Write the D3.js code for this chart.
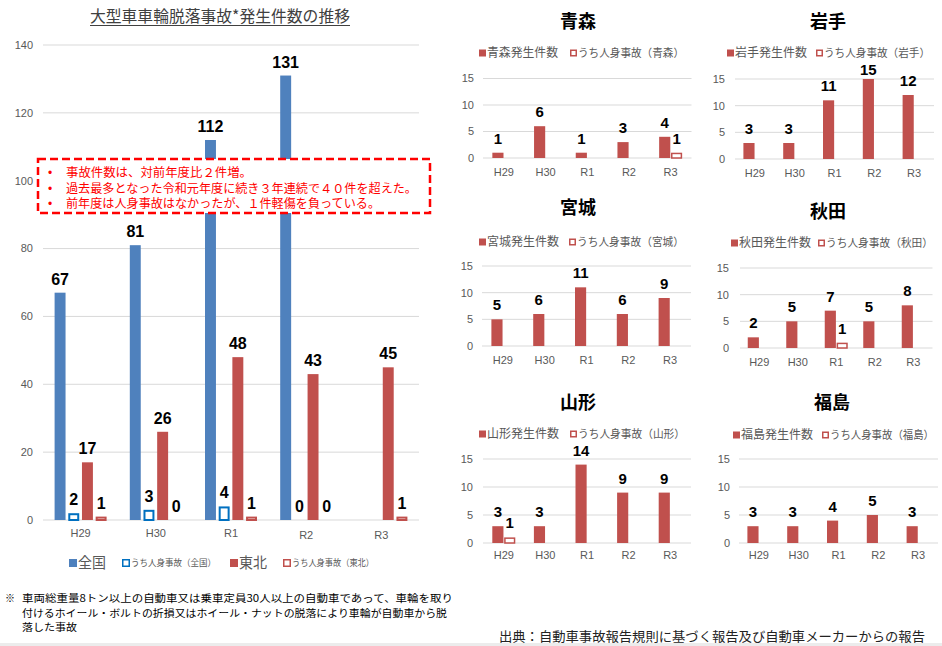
<!DOCTYPE html>
<html><head><meta charset="utf-8">
<script src="https://cdn.jsdelivr.net/npm/d3@7"></script>
<style>
body{margin:0;background:#fff}
svg{display:block}
text{font-family:"Liberation Sans","Noto Sans CJK JP",sans-serif}
.jp{font-family:"Noto Sans CJK JP",sans-serif}
</style>
</head><body>
<svg id="c" width="942" height="646"></svg>
<script>
// ---------- DATA ----------
const years = ["H29", "H30", "R1", "R2", "R3"];
const mainTicks = [0, 20, 40, 60, 80, 100, 120, 140];
const zenkoku = [67, 81, 112, 131, null];
const zenkokuInjury = [2, 3, 4, 0, null];
const tohoku = [17, 26, 48, 43, 45];
const tohokuInjury = [1, 0, 1, 0, 1];
const mainSeriesNames = ["全国", "うち人身事故（全国）", "東北", "うち人身事故（東北）"];

const smallTicks = [0, 5, 10, 15];
const prefectures = ["青森", "岩手", "宮城", "秋田", "山形", "福島"];
const aomori = [1, 6, 1, 3, 4];
const aomoriInjury = [null, null, null, null, 1];
const iwate = [3, 3, 11, 15, 12];
const iwateInjury = [null, null, null, null, null];
const miyagi = [5, 6, 11, 6, 9];
const miyagiInjury = [null, null, null, null, null];
const akita = [2, 5, 7, 5, 8];
const akitaInjury = [null, null, 1, null, null];
const yamagata = [3, 3, 14, 9, 9];
const yamagataInjury = [1, null, null, null, null];
const fukushima = [3, 3, 4, 5, 3];
const fukushimaInjury = [null, null, null, null, null];

const calloutLines = [
  "事故件数は、対前年度比２件増。",
  "過去最多となった令和元年度に続き３年連続で４０件を超えた。",
  "前年度は人身事故はなかったが、１件軽傷を負っている。"
];
const footnoteLines = [
  "車両総重量8トン以上の自動車又は乗車定員30人以上の自動車であって、車輪を取り",
  "付けるホイール・ボルトの折損又はホイール・ナットの脱落により車輪が自動車から脱",
  "落した事故"
];
const sourceText = "出典：自動車事故報告規則に基づく報告及び自動車メーカーからの報告";

// ---------- STYLE ----------
const BLUE = "#4f81bd", BLUE_OUT = "#0070c0", RED = "#c0504d", GRID = "#d9d9d9", TICK = "#595959";

const svg = d3.select("#c");

// ---------- MAIN CHART ----------
const main = svg.append("g");
const mx = d3.scaleBand().domain(years).range([43, 419]);
const my = d3.scaleLinear().domain([0, 140]).range([520, 45]);
const keys = ["z", "zi", "t", "ti"];
const sub = d3.scaleBand().domain(keys).range([0, 52]).paddingInner(0.2);
const gOff = (mx.bandwidth() - 52) / 2;

main.append("text").attr("x", 220).attr("y", 22).attr("text-anchor", "middle")
  .attr("class", "jp").attr("font-size", 16).attr("fill", "#404040")
  .attr("textLength", 260).attr("lengthAdjust", "spacingAndGlyphs")
  .text("大型車車輪脱落事故*発生件数の推移");
main.append("line").attr("x1", 90).attr("x2", 350).attr("y1", 25.5).attr("y2", 25.5)
  .attr("stroke", "#404040").attr("stroke-width", 1);

main.selectAll(".mg").data(mainTicks).join("line")
  .attr("x1", 43).attr("x2", 419).attr("y1", d => my(d)).attr("y2", d => my(d))
  .attr("stroke", GRID).attr("stroke-width", 1);
main.selectAll(".mt").data(mainTicks).join("text")
  .attr("x", 33).attr("y", d => my(d)).attr("dy", "0.35em").attr("text-anchor", "end")
  .attr("font-size", 11).attr("fill", TICK).text(d => d);
main.selectAll(".mxl").data(years).join("text")
  .attr("x", d => mx(d) + mx.bandwidth() / 2).attr("y", (d, i) => i >= 3 ? 539 : 537).attr("text-anchor", "middle")
  .attr("font-size", 11).attr("fill", TICK).text(d => d);

const mainSeries = [
  {k: "z", vals: zenkoku, fill: BLUE, hollow: false, stroke: BLUE},
  {k: "zi", vals: zenkokuInjury, fill: "#fff", hollow: true, stroke: BLUE_OUT},
  {k: "t", vals: tohoku, fill: RED, hollow: false, stroke: RED},
  {k: "ti", vals: tohokuInjury, fill: "#fff", hollow: true, stroke: RED}
];
mainSeries.forEach(s => {
  const pts = years.map((y, i) => ({y, v: s.vals[i]})).filter(d => d.v !== null);
  const bx = d => mx(d.y) + gOff + sub(s.k);
  main.selectAll(null).data(pts.filter(d => d.v > 0)).join("rect")
    .attr("x", d => bx(d) + (s.hollow ? 1 : 0))
    .attr("y", d => my(d.v) + (s.hollow ? 1 : 0))
    .attr("width", sub.bandwidth() - (s.hollow ? 2 : 0))
    .attr("height", d => my(0) - my(d.v) - (s.hollow ? 1 : 0))
    .attr("fill", s.fill).attr("stroke", s.hollow ? s.stroke : "none")
    .attr("stroke-width", s.hollow ? 2 : 0);
  main.selectAll(null).data(pts).join("text")
    .attr("x", d => bx(d) + sub.bandwidth() / 2).attr("y", d => my(d.v) - 8)
    .attr("text-anchor", "middle").attr("font-size", 16).attr("font-weight", "bold")
    .attr("fill", "#000").text(d => d.v);
});

// main legend
const legItems = [
  {x: 69, fill: BLUE, stroke: null, label: mainSeriesNames[0], fs: 15, w: 28},
  {x: 122, fill: "#fff", stroke: BLUE_OUT, label: mainSeriesNames[1], fs: 9, w: 85},
  {x: 230, fill: RED, stroke: null, label: mainSeriesNames[2], fs: 15, w: 28},
  {x: 283, fill: "#fff", stroke: RED, label: mainSeriesNames[3], fs: 9, w: 82}
];
legItems.forEach(it => {
  main.append("rect").attr("x", it.x + (it.stroke ? 0.75 : 0)).attr("y", 559 + (it.stroke ? 0.75 : 0))
    .attr("width", it.stroke ? 6.5 : 8).attr("height", it.stroke ? 6.5 : 8)
    .attr("fill", it.fill).attr("stroke", it.stroke || "none").attr("stroke-width", it.stroke ? 1.5 : 0);
  main.append("text").attr("x", it.x + 9).attr("y", 563).attr("dy", "0.36em")
    .attr("class", "jp").attr("font-size", it.fs).attr("fill", TICK)
    .attr("textLength", it.w).attr("lengthAdjust", "spacingAndGlyphs").text(it.label);
});

// callout box
const cb = svg.append("g");
cb.append("rect").attr("x", 38).attr("y", 159).attr("width", 392).attr("height", 54)
  .attr("fill", "#fff").attr("stroke", "#ff0000").attr("stroke-width", 2.5)
  .attr("stroke-dasharray", "8,4");
const calloutW = [186, 351, 314];
calloutLines.forEach((t, i) => {
  const yy = 177 + i * 15.7;
  cb.append("text").attr("x", 48).attr("y", yy).attr("font-size", 12).attr("fill", "#ff0000").text("•");
  cb.append("text").attr("x", 66).attr("y", yy).attr("class", "jp").attr("font-size", 12)
    .attr("textLength", calloutW[i]).attr("lengthAdjust", "spacingAndGlyphs")
    .attr("fill", "#ff0000").text(t);
});

// ---------- SMALL CHARTS ----------
const panels = [
  {name: prefectures[0], c: aomori, inj: aomoriInjury, x0: 483, x1: 691.5, y0: 158, y15: 78.5, ylx: 474, xly: 176, tx: 578, ty: 28, ly: 53, l1: 479, l2: 570, w1: 71, w2: 106},
  {name: prefectures[1], c: iwate, inj: iwateInjury, x0: 735, x1: 934, y0: 159, y15: 79, ylx: 725, xly: 177, tx: 828, ty: 28, ly: 53, l1: 727, l2: 816, w1: 72, w2: 106},
  {name: prefectures[2], c: miyagi, inj: miyagiInjury, x0: 482, x1: 691, y0: 346, y15: 266, ylx: 473, xly: 364, tx: 578, ty: 214, ly: 242, l1: 479, l2: 569, w1: 72, w2: 107},
  {name: prefectures[3], c: akita, inj: akitaInjury, x0: 740, x1: 932.5, y0: 348, y15: 268, ylx: 729, xly: 366, tx: 828, ty: 218, ly: 243, l1: 731, l2: 818, w1: 72, w2: 107},
  {name: prefectures[4], c: yamagata, inj: yamagataInjury, x0: 483, x1: 691, y0: 543, y15: 459, ylx: 473, xly: 559, tx: 578, ty: 409, ly: 434, l1: 479, l2: 570, w1: 72, w2: 107},
  {name: prefectures[5], c: fukushima, inj: fukushimaInjury, x0: 739, x1: 938, y0: 543, y15: 459, ylx: 730, xly: 559, tx: 832, ty: 409, ly: 435, l1: 733, l2: 822, w1: 72, w2: 104}
];

panels.forEach(p => {
  const g = svg.append("g");
  const x = d3.scaleBand().domain(years).range([p.x0, p.x1]);
  const y = d3.scaleLinear().domain([0, 15]).range([p.y0, p.y15]);
  const s = d3.scaleBand().domain(["c", "i"]).range([0, 23]).paddingInner(0.06);
  const off = x.bandwidth() / 2 - 11.5;
  const labelY = v => Math.max(y(v) - 9, p.y15 - 4);

  g.selectAll(null).data(smallTicks).join("line")
    .attr("x1", p.x0).attr("x2", p.x1).attr("y1", d => y(d)).attr("y2", d => y(d))
    .attr("stroke", GRID).attr("stroke-width", 1);
  g.selectAll(null).data(smallTicks).join("text")
    .attr("x", p.ylx).attr("y", d => y(d)).attr("dy", "0.35em").attr("text-anchor", "end")
    .attr("font-size", 11).attr("fill", TICK).text(d => d);
  g.selectAll(null).data(years).join("text")
    .attr("x", d => x(d) + x.bandwidth() / 2).attr("y", p.xly).attr("text-anchor", "middle")
    .attr("font-size", 11).attr("fill", TICK).text(d => d);

  const cPts = years.map((yr, i) => ({yr, v: p.c[i]})).filter(d => d.v !== null);
  const iPts = years.map((yr, i) => ({yr, v: p.inj[i]})).filter(d => d.v !== null);

  g.selectAll(null).data(cPts).join("rect")
    .attr("x", d => x(d.yr) + off + s("c")).attr("y", d => y(d.v))
    .attr("width", s.bandwidth()).attr("height", d => y(0) - y(d.v)).attr("fill", RED);
  g.selectAll(null).data(iPts.filter(d => d.v > 0)).join("rect")
    .attr("x", d => x(d.yr) + off + s("i") + 0.75).attr("y", d => y(d.v) + 0.75)
    .attr("width", s.bandwidth() - 1.5).attr("height", d => y(0) - y(d.v) - 0.75)
    .attr("fill", "#fff").attr("stroke", RED).attr("stroke-width", 1.5);

  g.selectAll(null).data(cPts).join("text")
    .attr("x", d => x(d.yr) + off + s("c") + s.bandwidth() / 2).attr("y", d => labelY(d.v))
    .attr("text-anchor", "middle").attr("font-size", 15).attr("font-weight", "bold").text(d => d.v);
  g.selectAll(null).data(iPts).join("text")
    .attr("x", d => x(d.yr) + off + s("i") + s.bandwidth() / 2).attr("y", d => labelY(d.v))
    .attr("text-anchor", "middle").attr("font-size", 15).attr("font-weight", "bold").text(d => d.v);

  g.append("text").attr("x", p.tx).attr("y", p.ty).attr("text-anchor", "middle")
    .attr("class", "jp").attr("font-size", 18).attr("font-weight", "bold").attr("fill", "#000").text(p.name);

  g.append("rect").attr("x", p.l1).attr("y", p.ly - 3.5).attr("width", 7).attr("height", 7).attr("fill", RED);
  g.append("text").attr("x", p.l1 + 8).attr("y", p.ly).attr("dy", "0.36em").attr("class", "jp")
    .attr("font-size", 12).attr("fill", TICK)
    .attr("textLength", p.w1).attr("lengthAdjust", "spacingAndGlyphs").text(p.name + "発生件数");
  g.append("rect").attr("x", p.l2 + 0.75).attr("y", p.ly - 2.75).attr("width", 5.5).attr("height", 5.5)
    .attr("fill", "#fff").attr("stroke", RED).attr("stroke-width", 1.5);
  g.append("text").attr("x", p.l2 + 8).attr("y", p.ly).attr("dy", "0.36em").attr("class", "jp")
    .attr("font-size", 11).attr("fill", TICK)
    .attr("textLength", p.w2).attr("lengthAdjust", "spacingAndGlyphs").text("うち人身事故（" + p.name + "）");
});

// ---------- FOOTNOTES ----------
svg.append("text").attr("x", 5).attr("y", 602).attr("class", "jp").attr("font-size", 10).attr("fill", "#000").text("※");
const footW = [431, 425, 55];
footnoteLines.forEach((t, i) => {
  svg.append("text").attr("x", 22).attr("y", 602 + i * 14.5).attr("class", "jp")
    .attr("font-size", 10).attr("fill", "#000")
    .attr("textLength", footW[i]).attr("lengthAdjust", "spacingAndGlyphs").text(t);
});
svg.append("text").attr("x", 925).attr("y", 641).attr("text-anchor", "end").attr("class", "jp")
  .attr("font-size", 13).attr("fill", "#222")
  .attr("textLength", 426).attr("lengthAdjust", "spacingAndGlyphs").text(sourceText);
svg.append("rect").attr("x", 0).attr("y", 643).attr("width", 942).attr("height", 3).attr("fill", "#ececec");
</script>
</body></html>
